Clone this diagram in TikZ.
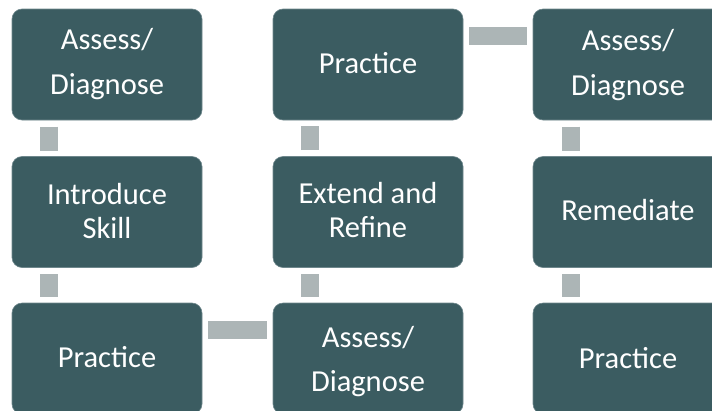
\documentclass[tikz,border=0pt]{standalone}
\usepackage{fontspec}
\setmainfont{Carlito}
\definecolor{boxfill}{RGB}{59,92,97}
\definecolor{boxline}{RGB}{110,135,140}
\definecolor{barfill}{RGB}{172,181,182}
\begin{document}
\begin{tikzpicture}[x=1pt,y=-1pt,
  stepbox/.style={draw=boxline,line width=0.6pt,fill=boxfill,rounded corners=10pt,
    minimum width=190pt,minimum height=111pt,inner sep=0pt,outer sep=0pt},
  lbl/.style={text=white,font=\fontsize{30.5}{34}\selectfont,anchor=base,inner sep=0pt},
  bar/.style={draw=barfill,line width=18pt},
  vbar/.style={bar,shorten <=6.5pt,shorten >=6pt},
  hbar/.style={bar,shorten <=6pt,shorten >=6pt}]
\useasboundingbox (0,0) rectangle (712,410);
\begin{scope}
\clip (0,0) rectangle (712,410);
% boxes
\node[stepbox] (a1) at (107,64.5) {};
\node[stepbox] (a2) at (107,212) {};
\node[stepbox] (a3) at (107,358.5) {};
\node[stepbox] (b1) at (368,64.5) {};
\node[stepbox] (b2) at (368,212) {};
\node[stepbox] (b3) at (368,358.5) {};
\node[stepbox] (c1) at (628,64.5) {};
\node[stepbox] (c2) at (628,212) {};
\node[stepbox] (c3) at (628,358.5) {};
% connectors
\draw[vbar] ([xshift=37pt]a1.south west) -- ([xshift=37pt]a2.north west);
\draw[vbar] ([xshift=37pt]a2.south west) -- ([xshift=37pt]a3.north west);
\draw[hbar] ([yshift=-27pt]a3.north east) -- ([yshift=-27pt]b3.north west);
\draw[vbar] ([xshift=37pt]b3.north west) -- ([xshift=37pt]b2.south west);
\draw[vbar] ([xshift=37pt]b2.north west) -- ([xshift=37pt]b1.south west);
\draw[hbar] ([yshift=-26.5pt]b1.north east) -- ([yshift=-26.5pt]c1.north west);
\draw[vbar] ([xshift=38pt]c1.south west) -- ([xshift=38pt]c2.north west);
\draw[vbar] ([xshift=38pt]c2.south west) -- ([xshift=38pt]c3.north west);
% labels
\node[lbl] (ta1a) at (107,49) {Assess/};
\node[lbl] (ta1b) at (107,94) {Diagnose};
\node[lbl] (ta2a) at (107,204) {Introduce};
\node[lbl] (ta2b) at (107,238) {Skill};
\node[lbl] (ta3) at (107,367) {Practice};
\node[lbl] (tb1) at (368,73) {Practice};
\node[lbl] (tb2a) at (368,203) {Extend and};
\node[lbl] (tb2b) at (368,237) {Refine};
\node[lbl] (tb3a) at (368,347) {Assess/};
\node[lbl] (tb3b) at (368,391) {Diagnose};
\node[lbl] (tc1a) at (628,50) {Assess/};
\node[lbl] (tc1b) at (628,95) {Diagnose};
\node[lbl] (tc2) at (628,220) {Remediate};
\node[lbl] (tc3) at (628,368) {Practice};
\end{scope}
\end{tikzpicture}
\end{document}
